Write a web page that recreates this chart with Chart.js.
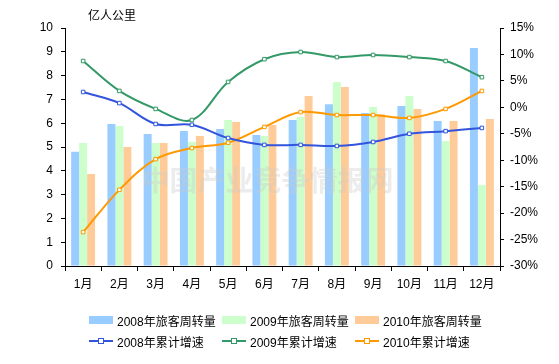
<!DOCTYPE html>
<html><head><meta charset="utf-8">
<script src="https://cdn.jsdelivr.net/npm/chart.js@4/dist/chart.umd.min.js"></script>
<style>
html,body{margin:0;padding:0;background:#fff;}
#wrap{position:relative;width:559px;height:364px;}
#legend{position:absolute;left:0;top:0;width:559px;height:364px;pointer-events:none;font:12px "Liberation Sans","Noto Sans CJK SC",sans-serif;color:#000;}
.li{position:absolute;display:flex;align-items:center;height:14px;white-space:nowrap;}
.sw{width:24px;height:8px;margin-right:4px;position:relative;}
.ln{width:24px;height:2px;margin-right:4px;position:relative;}
.ln i{position:absolute;left:9px;top:-2px;width:4px;height:4px;border:1px solid;background:#fff;}
</style></head>
<body><div id="wrap"><canvas id="c" width="559" height="364"></canvas><div id="legend"></div></div>
<script>
const categories = ['1月','2月','3月','4月','5月','6月','7月','8月','9月','10月','11月','12月'];
const volume2008 = [4.8,5.97,5.55,5.67,5.76,5.5,6.13,6.8,6.43,6.72,6.09,9.16];
const volume2009 = [5.17,5.88,5.17,5.21,6.13,5.46,6.26,7.73,6.68,7.14,5.25,3.4];
const volume2010 = [3.87,5.0,5.17,5.46,6.05,5.92,7.14,7.52,6.38,6.6,6.09,6.18];
const growth2008 = [2.9,0.8,-3.15,-3.3,-5.8,-7.1,-7.1,-7.3,-6.55,-5.0,-4.5,-3.9];
const growth2009 = [8.76,3.1,-0.3,-2.4,4.8,9.1,10.46,9.5,9.9,9.5,8.76,5.7];
const growth2010 = [-23.6,-15.6,-9.8,-7.7,-6.7,-3.7,-0.9,-1.45,-1.45,-2.0,-0.3,3.1];
const leftTicks = [0,1,2,3,4,5,6,7,8,9,10];
const rightTicks = [-30,-25,-20,-15,-10,-5,0,5,10,15];
const unitLabel = '亿人公里';
const watermark = '中国产业竞争情报网';

const FONT = '"Liberation Sans","Noto Sans CJK SC",sans-serif';
const barSets = [
  {label:'2008年旅客周转量', data:volume2008, color:'#99CCFF'},
  {label:'2009年旅客周转量', data:volume2009, color:'#CCFFCC'},
  {label:'2010年旅客周转量', data:volume2010, color:'#FFCC99'}
];
const lineSets = [
  {label:'2008年累计增速', data:growth2008, color:'#3355DD'},
  {label:'2009年累计增速', data:growth2009, color:'#339966'},
  {label:'2010年累计增速', data:growth2010, color:'#FF9900'}
];
const datasets = [];
barSets.forEach(s=>datasets.push({type:'bar',label:s.label,data:s.data,backgroundColor:s.color,borderWidth:0,
  yAxisID:'y',categoryPercentage:0.66,barPercentage:1.0,order:2}));
lineSets.forEach(s=>datasets.push({type:'line',label:s.label,data:s.data,borderColor:s.color,borderWidth:2,
  yAxisID:'y1',tension:0.35,pointStyle:'rect',pointRadius:2.5,pointBorderWidth:1,pointBorderColor:s.color,
  pointBackgroundColor:'#fff',fill:false,order:1}));

const extras = {
  id:'extras',
  afterDatasetsDraw(chart){
    const ctx = chart.ctx, a = chart.chartArea;
    ctx.save();
    ctx.font = 'bold 28px "Noto Sans CJK SC",sans-serif';
    ctx.fillStyle = 'rgba(200,200,200,0.35)';
    ctx.textAlign = 'center'; ctx.textBaseline = 'middle';
    ctx.fillText(watermark, (a.left+a.right)/2 - 15, 180);
    ctx.restore();
  },
  afterDraw(chart){
    const ctx = chart.ctx, a = chart.chartArea;
    ctx.save();
    ctx.font = '12px "Noto Sans CJK SC",sans-serif';
    ctx.fillStyle = '#000'; ctx.textBaseline='middle'; ctx.textAlign='left';
    ctx.fillText(unitLabel, a.left + 23, 15);
    ctx.restore();
  }
};

new Chart(document.getElementById('c'), {
  data:{labels:categories, datasets},
  options:{
    responsive:false, animation:false, maintainAspectRatio:false,
    layout:{padding:{top:28,left:0,right:0,bottom:0}},
    plugins:{legend:{display:false},tooltip:{enabled:false}},
    scales:{
      x:{offset:true,
        grid:{display:true,drawOnChartArea:false,offset:true,tickLength:5,color:'#000'},
        border:{display:true,color:'#000',width:1},
        ticks:{color:'#000',font:{family:FONT,size:12},padding:6,maxRotation:0},
        afterFit(s){s.height=98;}
      },
      y:{position:'left',min:0,max:10,
        afterBuildTicks(s){s.ticks = leftTicks.map(v=>({value:v}));},
        grid:{display:true,drawOnChartArea:false,tickLength:4,color:'#000'},
        border:{display:true,color:'#000',width:1},
        ticks:{color:'#000',font:{family:FONT,size:12},padding:8},
        afterFit(s){s.width=65;}
      },
      y1:{position:'right',min:-30,max:15,
        afterBuildTicks(s){s.ticks = rightTicks.map(v=>({value:v}));},
        grid:{display:true,drawOnChartArea:false,tickLength:4,color:'#000'},
        border:{display:true,color:'#000',width:1},
        ticks:{color:'#000',font:{family:FONT,size:12},padding:6,callback:v=>v+'%'},
        afterFit(s){s.width=59;}
      }
    }
  },
  plugins:[extras]
});

// HTML legend built from the dataset definitions
const lg = document.getElementById('legend');
const xs = [89,222,355];
barSets.forEach((s,i)=>{
  const d=document.createElement('div');d.className='li';d.style.left=xs[i]+'px';d.style.top='313px';
  d.innerHTML='<span class="sw" style="background:'+s.color+'"></span><span>'+s.label+'</span>';lg.appendChild(d);
});
lineSets.forEach((s,i)=>{
  const d=document.createElement('div');d.className='li';d.style.left=xs[i]+'px';d.style.top='334px';
  d.innerHTML='<span class="ln" style="background:'+s.color+'"><i style="border-color:'+s.color+'"></i></span><span>'+s.label+'</span>';lg.appendChild(d);
});
</script></body></html>
